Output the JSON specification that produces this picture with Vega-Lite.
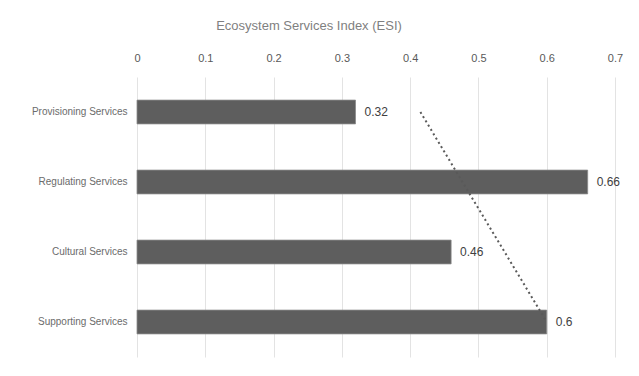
{
  "$schema": "https://vega.github.io/schema/vega-lite/v6.json",
  "width": 478,
  "height": 280,
  "autosize": {"type": "none"},
  "padding": {"left": 137, "top": 77, "right": 24, "bottom": 19},
  "background": "white",
  "title": {
    "text": "Ecosystem Services Index (ESI)",
    "font": "Liberation Sans",
    "fontSize": 13,
    "fontWeight": "normal",
    "color": "#7f7f7f",
    "anchor": "middle",
    "dx": -67,
    "offset": 19
  },
  "datasets": {
    "esi": [
      {"service": "Provisioning Services", "index": 0.32},
      {"service": "Regulating Services", "index": 0.66},
      {"service": "Cultural Services", "index": 0.46},
      {"service": "Supporting Services", "index": 0.6}
    ],
    "trend": [
      {"service": "Provisioning Services", "fit": 0.415},
      {"service": "Supporting Services", "fit": 0.6}
    ]
  },
  "config": {
    "view": {"stroke": null},
    "font": "Liberation Sans"
  },
  "layer": [
    {
      "data": {"name": "esi"},
      "mark": {"type": "bar", "color": "#5e5e5e", "stroke": "#8a8a8a", "strokeWidth": 0.8},
      "encoding": {
        "y": {
          "field": "service",
          "type": "nominal",
          "sort": null,
          "scale": {"paddingInner": 0.66, "paddingOuter": 0.33},
          "axis": {
            "title": null,
            "domain": false,
            "ticks": false,
            "labelPadding": 10,
            "labelFontSize": 10,
            "labelColor": "#6b6b6b",
            "labelLimit": 200
          }
        },
        "x": {
          "field": "index",
          "type": "quantitative",
          "scale": {"domain": [0, 0.7], "nice": false},
          "axis": {
            "orient": "top",
            "title": null,
            "values": [0, 0.1, 0.2, 0.3, 0.4, 0.5, 0.6, 0.7],
            "format": "~g",
            "labelFlush": false,
            "labelOverlap": false,
            "domain": false,
            "ticks": false,
            "labelPadding": 14,
            "labelFontSize": 11,
            "labelColor": "#595959",
            "gridColor": "#e3e3e3",
            "gridWidth": 1
          }
        }
      }
    },
    {
      "data": {"name": "esi"},
      "mark": {"type": "text", "align": "left", "dx": 9, "fontSize": 12, "color": "#404040"},
      "encoding": {
        "y": {"field": "service", "type": "nominal", "sort": null},
        "x": {"field": "index", "type": "quantitative"},
        "text": {"field": "index", "type": "quantitative"}
      }
    },
    {
      "data": {"name": "trend"},
      "mark": {"type": "line", "color": "#595959", "strokeWidth": 2, "strokeDash": [2, 3]},
      "encoding": {
        "y": {"field": "service", "type": "nominal", "sort": null},
        "x": {"field": "fit", "type": "quantitative"}
      }
    }
  ]
}
